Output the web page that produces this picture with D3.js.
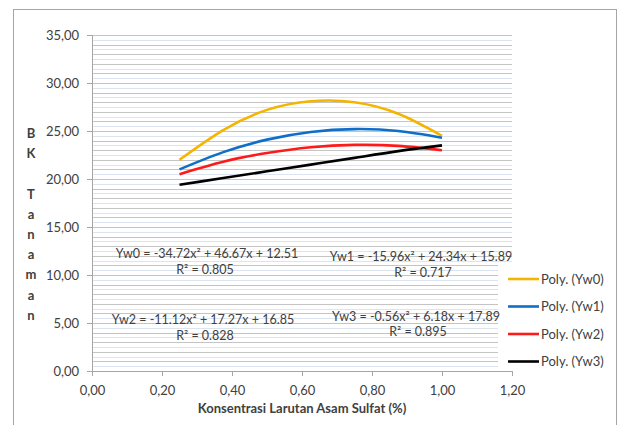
<!DOCTYPE html>
<html>
<head>
<meta charset="utf-8">
<script src="https://cdn.jsdelivr.net/npm/d3@7"></script>
<style>
  body { margin: 0; background: #fff; }
  svg text { font-family: Lato, "Open Sans", sans-serif; fill: #404040; }
</style>
</head>
<body>
<div id="chart"></div>
<script>
// Concentration levels where the trendlines were read
const xValues = [0.25, 0.375, 0.5, 0.625, 0.75, 0.875, 1.0];
// Trendline values
const yw0 = [22.0, 25.1, 27.2, 28.1, 28.0, 26.8, 24.5];
const yw1 = [21.0, 22.8, 24.1, 24.9, 25.2, 25.0, 24.3];
const yw2 = [20.5, 21.8, 22.7, 23.3, 23.55, 23.45, 23.0];
const yw3 = [19.4, 20.1, 20.8, 21.5, 22.2, 22.9, 23.5];
const seriesNames = ["Poly. (Yw0)", "Poly. (Yw1)", "Poly. (Yw2)", "Poly. (Yw3)"];
const equations = [
  "Yw0 = -34.72x\u00b2 + 46.67x + 12.51",
  "Yw1 = -15.96x\u00b2 + 24.34x + 15.89",
  "Yw2 = -11.12x\u00b2 + 17.27x + 16.85",
  "Yw3 = -0.56x\u00b2 + 6.18x + 17.89"
];
const rSquared = ["R\u00b2 = 0.805", "R\u00b2 = 0.717", "R\u00b2 = 0.828", "R\u00b2 = 0.895"];
const yTicks = [0, 5, 10, 15, 20, 25, 30, 35];
const xTicks = [0, 0.2, 0.4, 0.6, 0.8, 1.0, 1.2];
const yAxisLetters = ["B", "K", "", "T", "a", "n", "a", "m", "a", "n"];

const width = 620;
const height = 425;
const margin = { top: 35, right: 108, bottom: 54, left: 92 };

const svg = d3.select("#chart").append("svg")
  .attr("width", width)
  .attr("height", height);

// outer border
svg.append("rect")
  .attr("x", 13.5).attr("y", 9.5)
  .attr("width", 603).attr("height", 430)
  .attr("fill", "none")
  .attr("stroke", "#a6a6a6");

const x = d3.scaleLinear().domain([0, 1.2]).range([margin.left, width - margin.right]);
const y = d3.scaleLinear().domain([0, 35]).range([height - margin.bottom, margin.top]);

const locale = d3.formatLocale({ decimal: ",", thousands: ".", grouping: [3], currency: ["", ""] });
const fmt = locale.format(".2f");

// gridlines: minor every 0.5, major every 1
const gridVals = d3.range(0.5, 35.01, 0.5);
svg.append("g").selectAll("line")
  .data(gridVals)
  .join("line")
  .attr("x1", x(0)).attr("x2", x(1.2))
  .attr("y1", d => Math.round(y(d)) + 0.5)
  .attr("y2", d => Math.round(y(d)) + 0.5)
  .attr("stroke", d => (d % 1 === 0 ? "#c4c4c4" : "#dbe5f1"))
  .attr("stroke-width", 1);

// Y axis
const yAxis = svg.append("g")
  .attr("transform", `translate(${x(0)},0)`)
  .call(d3.axisLeft(y).tickValues(yTicks).tickFormat(fmt).tickSize(5).tickPadding(8));
yAxis.select(".domain").attr("stroke", "#a6a6a6");
yAxis.selectAll(".tick line").attr("stroke", "#a6a6a6");
yAxis.selectAll("text").style("font-size", "13px").attr("fill", "#404040");

// X axis
const xAxis = svg.append("g")
  .attr("transform", `translate(0,${y(0)})`)
  .call(d3.axisBottom(x).tickValues(xTicks).tickFormat(fmt).tickSize(5).tickPadding(10));
xAxis.select(".domain").attr("stroke", "#a6a6a6");
xAxis.selectAll(".tick line").attr("stroke", "#a6a6a6");
xAxis.selectAll("text").style("font-size", "13px").attr("fill", "#404040");

// axis titles
svg.append("text")
  .attr("x", (x(0) + x(1.2)) / 2)
  .attr("y", 413)
  .attr("text-anchor", "middle")
  .style("font-size", "13px")
  .style("font-weight", "bold")
  .text("Konsentrasi Larutan Asam Sulfat (%)");

svg.append("text")
  .attr("text-anchor", "middle")
  .style("font-size", "13px")
  .style("font-weight", "bold")
  .selectAll("tspan")
  .data(yAxisLetters)
  .join("tspan")
  .attr("x", 31)
  .attr("y", (d, i) => 138 + i * 20.2)
  .text(d => d);

// trendlines
const colors = ["#f5b400", "#0f6fc6", "#ff1a1a", "#000000"];
const allSeries = [yw0, yw1, yw2, yw3];
const line = d3.line()
  .x((d, i) => x(xValues[i]))
  .y(d => y(d))
  .curve(d3.curveNatural);

svg.append("g").selectAll("path")
  .data(allSeries)
  .join("path")
  .attr("d", d => line(d))
  .attr("fill", "none")
  .attr("stroke", (d, i) => colors[i])
  .attr("stroke-width", 2.6);

// legend
const legend = svg.append("g");
legend.append("rect")
  .attr("x", 498).attr("y", 262)
  .attr("width", 118).attr("height", 108)
  .attr("fill", "#fff");
seriesNames.forEach((name, i) => {
  const ly = 279 + i * 27.5;
  legend.append("line")
    .attr("x1", 508).attr("x2", 539)
    .attr("y1", ly).attr("y2", ly)
    .attr("stroke", colors[i])
    .attr("stroke-width", 2.6);
  legend.append("text")
    .attr("x", 541).attr("y", ly + 4.5)
    .style("font-size", "13px")
    .text(name);
});

// equation labels (drawn on top of the legend box)
const eqPos = [[207, 258, 274], [421, 261, 277], [203, 324, 340], [416, 321, 336]];
const eq = svg.append("g").style("font-size", "12.5px").attr("text-anchor", "middle");
equations.forEach((t, i) => {
  eq.append("text").attr("x", eqPos[i][0]).attr("y", eqPos[i][1]).text(t);
  eq.append("text").attr("x", eqPos[i][0] + (i === 0 ? -2 : 2)).attr("y", eqPos[i][2]).text(rSquared[i]);
});
</script>
</body>
</html>
